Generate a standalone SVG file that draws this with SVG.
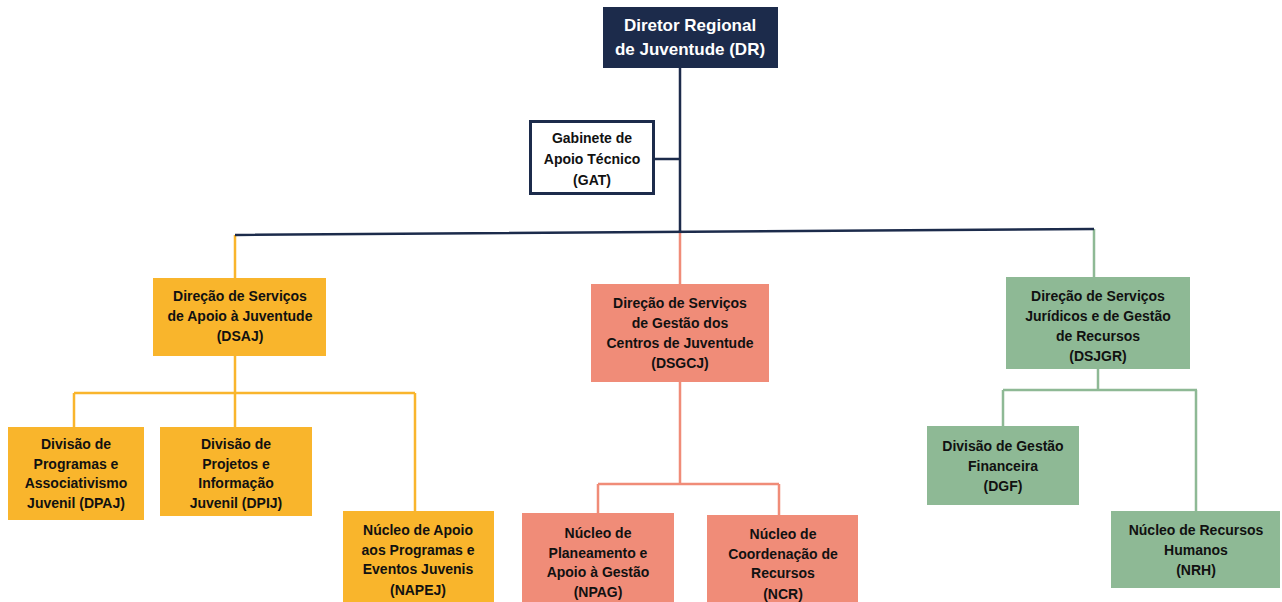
<svg xmlns="http://www.w3.org/2000/svg" width="1282" height="602" viewBox="0 0 1282 602">
<style>
text{font-family:"Liberation Sans",Arial,sans-serif;font-weight:bold;font-size:14px;fill:#111111;text-anchor:middle}
.dr text{fill:#ffffff;font-size:17px}
.y{fill:#f9b52c}
.p{fill:#f08c78}
.g{fill:#8eb995}
.cy{stroke:#f9b52c;stroke-width:2.5;fill:none}
.cp{stroke:#f08c78;stroke-width:2.5;fill:none}
.cg{stroke:#8eb995;stroke-width:2.5;fill:none}
.cn{stroke:#1c2b4b;stroke-width:2.5;fill:none}
</style>
<rect width="1282" height="602" fill="#ffffff"/>
<g id="connectors">
<path class="cy" d="M235,235 V278 M235,356 V393 M74,393 H415 M74,393 V427 M235,393 V427 M415,393 V511"/>
<path class="cp" d="M680,233 V284 M680,382 V484 M598,484 H779 M598,484 V513 M779,484 V515"/>
<path class="cg" d="M1094,229 V277 M1098,369 V390 M1003,390 H1197 M1003,390 V426 M1196,390 V511"/>
<path class="cn" d="M680,68 V233 M654,159 H680 M235,235 L1094,229"/>
</g>
<g id="dr" class="dr"><rect x="603" y="7" width="175" height="61" fill="#1c2b4b"/><text x="690" y="31">Diretor Regional</text><text x="690" y="55">de Juventude (DR)</text></g>
<g id="gat"><rect x="530.5" y="121.5" width="123" height="72" fill="#ffffff" stroke="#1c2b4b" stroke-width="3"/><text x="592" y="143">Gabinete de</text><text x="592" y="164">Apoio Técnico</text><text x="592" y="185">(GAT)</text></g>
<g id="dsaj"><rect class="y" x="153" y="278" width="173" height="78"/><text x="240" y="301">Direção de Serviços</text><text x="240" y="321">de Apoio à Juventude</text><text x="240" y="341">(DSAJ)</text></g>
<g id="dpaj"><rect class="y" x="8" y="427" width="136" height="93"/><text x="76" y="449">Divisão de</text><text x="76" y="469">Programas e</text><text x="76" y="488">Associativismo</text><text x="76" y="508">Juvenil (DPAJ)</text></g>
<g id="dpij"><rect class="y" x="160" y="427" width="152" height="89"/><text x="236" y="449">Divisão de</text><text x="236" y="469">Projetos e</text><text x="236" y="488">Informação</text><text x="236" y="508">Juvenil (DPIJ)</text></g>
<g id="napej"><rect class="y" x="343" y="511" width="151" height="91"/><text x="418" y="535">Núcleo de Apoio</text><text x="418" y="555">aos Programas e</text><text x="418" y="574">Eventos Juvenis</text><text x="418" y="595">(NAPEJ)</text></g>
<g id="dsgcj"><rect class="p" x="591" y="284" width="178" height="98"/><text x="680" y="308">Direção de Serviços</text><text x="680" y="328">de Gestão dos</text><text x="680" y="348">Centros de Juventude</text><text x="680" y="368">(DSGCJ)</text></g>
<g id="npag"><rect class="p" x="522" y="513" width="152" height="89"/><text x="598" y="538">Núcleo de</text><text x="598" y="558">Planeamento e</text><text x="598" y="577">Apoio à Gestão</text><text x="598" y="597">(NPAG)</text></g>
<g id="ncr"><rect class="p" x="707" y="515" width="151" height="87"/><text x="783" y="539">Núcleo de</text><text x="783" y="559">Coordenação de</text><text x="783" y="578">Recursos</text><text x="783" y="599">(NCR)</text></g>
<g id="dsjgr"><rect class="g" x="1006" y="277" width="184" height="92"/><text x="1098" y="301">Direção de Serviços</text><text x="1098" y="321">Jurídicos e de Gestão</text><text x="1098" y="341">de Recursos</text><text x="1098" y="361">(DSJGR)</text></g>
<g id="dgf"><rect class="g" x="927" y="426" width="152" height="79"/><text x="1003" y="451">Divisão de Gestão</text><text x="1003" y="471">Financeira</text><text x="1003" y="491">(DGF)</text></g>
<g id="nrh"><rect class="g" x="1111" y="511" width="169" height="77"/><text x="1196" y="535">Núcleo de Recursos</text><text x="1196" y="555">Humanos</text><text x="1196" y="575">(NRH)</text></g>
</svg>
